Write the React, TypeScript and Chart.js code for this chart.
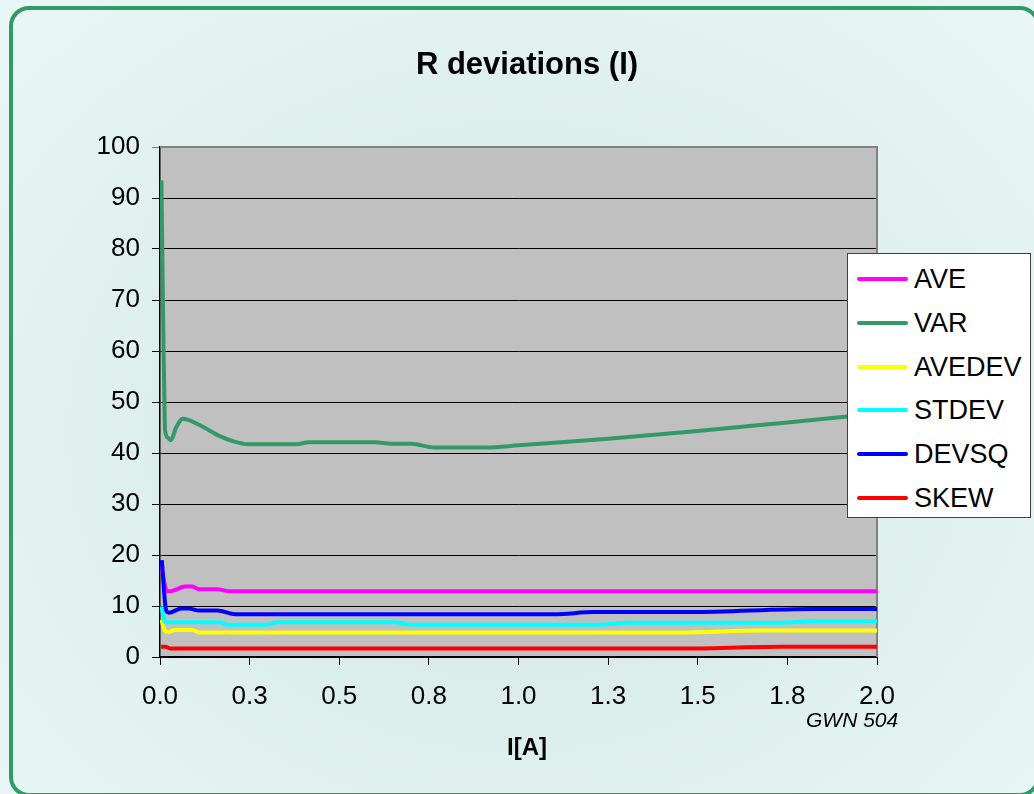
import React, { useEffect, useRef } from 'react';
import { Chart, registerables } from 'chart.js';

Chart.register(...registerables);

// ---- data (current I [A] vs deviation values) ----
const seriesNames = ['AVE', 'VAR', 'AVEDEV', 'STDEV', 'DEVSQ', 'SKEW'];
const seriesColors = ['#FF00FF', '#339966', '#FFFF00', '#00FFFF', '#0000FF', '#FF0000'];

const aveX = [0.004, 0.02, 0.03, 0.07, 0.09, 0.11, 0.16, 0.19, 2.0];
const aveY = [17.5, 12.9, 12.9, 13.8, 13.8, 13.3, 13.3, 12.9, 12.9];

const varX = [0.004, 0.007, 0.01, 0.012, 0.014, 0.022, 0.03, 0.045, 0.063, 0.11, 0.167, 0.2, 0.245, 0.38, 0.415, 0.6, 0.645, 0.7, 0.765, 0.91, 1.0, 1.1, 1.25, 1.5, 1.75, 2.0];
const varY = [93.5, 76, 60, 52, 44.5, 43, 42.5, 45, 46.7, 45.5, 43.3, 42.4, 41.7, 41.7, 42.1, 42.1, 41.8, 41.8, 41.1, 41.1, 41.5, 42.0, 42.8, 44.3, 46.0, 47.7];

const avedevX = [0.004, 0.015, 0.025, 0.04, 0.09, 0.11, 1.45, 1.68, 2.0];
const avedevY = [7.3, 5.0, 4.9, 5.3, 5.3, 4.8, 4.8, 5.2, 5.2];

const stdevX = [0.004, 0.015, 0.167, 0.19, 0.29, 0.33, 0.65, 0.71, 1.22, 1.31, 1.73, 1.82, 2.0];
const stdevY = [9.9, 6.8, 6.8, 6.3, 6.3, 6.8, 6.8, 6.3, 6.3, 6.7, 6.7, 7.0, 7.0];

const devsqX = [0.005, 0.017, 0.025, 0.06, 0.08, 0.11, 0.16, 0.21, 1.1, 1.21, 1.48, 1.82, 2.0];
const devsqY = [19.0, 9.2, 8.7, 9.5, 9.5, 9.1, 9.1, 8.4, 8.4, 8.8, 8.8, 9.4, 9.4];

const skewX = [0.003, 0.015, 0.03, 1.45, 1.73, 2.0];
const skewY = [2.0, 2.0, 1.65, 1.65, 2.0, 2.0];

const xTickLabels = ['0.0', '0.3', '0.5', '0.8', '1.0', '1.3', '1.5', '1.8', '2.0'];
const yTickLabels = ['0', '10', '20', '30', '40', '50', '60', '70', '80', '90', '100'];

const seriesX = [aveX, varX, avedevX, stdevX, devsqX, skewX];
const seriesY = [aveY, varY, avedevY, stdevY, devsqY, skewY];

const FONT = "'Liberation Sans', Arial, Helvetica, sans-serif";

function toPoints(xs: number[], ys: number[]) {
  return xs.map((x, i) => ({ x, y: ys[i] }));
}

export default function App() {
  const canvasRef = useRef<HTMLCanvasElement>(null);

  useEffect(() => {
    if (!canvasRef.current) return;
    const plotArea = {
      id: 'plotArea',
      beforeDraw(chart: any) {
        const { ctx, chartArea: a } = chart;
        ctx.save();
        ctx.fillStyle = '#C0C0C0';
        ctx.fillRect(a.left, a.top, a.right - a.left, a.bottom - a.top);
        ctx.restore();
      },
      beforeDatasetsDraw(chart: any) {
        const { ctx, chartArea: a } = chart;
        ctx.save();
        ctx.strokeStyle = '#808080';
        ctx.lineWidth = 2;
        ctx.beginPath();
        ctx.moveTo(a.left, a.top);
        ctx.lineTo(a.right, a.top);
        ctx.lineTo(a.right, a.bottom);
        ctx.stroke();
        ctx.restore();
      },
    };

    const n = seriesNames.length;
    const chart = new Chart(canvasRef.current, {
      type: 'line',
      data: {
        datasets: seriesNames.map((name, i) => ({
          label: name,
          data: toPoints(seriesX[i], seriesY[i]),
          borderColor: seriesColors[i],
          backgroundColor: seriesColors[i],
          borderWidth: 4,
          pointRadius: 0,
          fill: false,
          cubicInterpolationMode: 'monotone' as const,
          order: n - i,
        })),
      },
      options: {
        responsive: false,
        maintainAspectRatio: false,
        animation: false,
        devicePixelRatio: 1,
        layout: { padding: { top: 147, right: 157, left: 0, bottom: 0 } },
        plugins: {
          legend: { display: false },
          title: { display: false },
          tooltip: { enabled: false },
        },
        scales: {
          x: {
            type: 'linear',
            min: 0,
            max: 2,
            afterFit(scale: any) {
              scale.height = 137;
            },
            ticks: {
              stepSize: 0.25,
              color: '#000',
              padding: 16,
              maxRotation: 0,
              font: { family: FONT, size: 26 },
              callback: (_v: any, idx: number) => xTickLabels[idx],
            },
            grid: {
              drawOnChartArea: false,
              drawTicks: true,
              tickLength: 8,
              color: '#000',
            },
            border: { display: true, color: '#000', width: 1.5 },
          },
          y: {
            type: 'linear',
            min: 0,
            max: 100,
            afterFit(scale: any) {
              scale.width = 160;
            },
            ticks: {
              stepSize: 10,
              color: '#000',
              padding: 12,
              font: { family: FONT, size: 26 },
              callback: (_v: any, idx: number) => yTickLabels[idx],
            },
            grid: {
              color: (ctx: any) => (ctx.tick && ctx.tick.value === 100 ? '#808080' : '#000000'),
              lineWidth: 1,
              tickLength: 8,
            },
            border: { display: true, color: '#000', width: 1.5 },
          },
        },
      },
      plugins: [plotArea],
    });
    return () => chart.destroy();
  }, []);

  const legendTop = 253;
  const rowH = 43.8;

  return (
    <div
      style={{
        position: 'fixed',
        left: 0,
        top: 0,
        width: 1034,
        height: 794,
        overflow: 'hidden',
        fontFamily: FONT,
        background: 'radial-gradient(ellipse at 50% 55%, #D2E6E4 0%, #DCEEEC 45%, #E8F7F5 100%)',
      }}
    >
      <div
        style={{
          position: 'absolute',
          left: 9,
          top: 6,
          width: 1040 - 9,
          height: 797 - 6,
          boxSizing: 'border-box',
          border: '4px solid #339966',
          borderRadius: 20,
        }}
      />
      <canvas ref={canvasRef} width={1034} height={794} style={{ position: 'absolute', left: 0, top: 0 }} />
      <div
        style={{
          position: 'absolute',
          left: 0,
          width: 1054,
          top: 46,
          lineHeight: '36px',
          textAlign: 'center',
          fontWeight: 'bold',
          fontSize: 31,
          color: '#000',
        }}
      >
        R deviations (I)
      </div>
      <div
        style={{
          position: 'absolute',
          left: 0,
          width: 1054,
          top: 732,
          lineHeight: '30px',
          textAlign: 'center',
          fontWeight: 'bold',
          fontSize: 24,
          color: '#000',
        }}
      >
        I[A]
      </div>
      <div
        style={{
          position: 'absolute',
          left: 806,
          top: 708,
          lineHeight: '24px',
          fontStyle: 'italic',
          fontSize: 21,
          color: '#000',
          whiteSpace: 'nowrap',
        }}
      >
        GWN 504
      </div>
      <div
        style={{
          position: 'absolute',
          left: 847,
          top: legendTop,
          width: 184,
          height: 265,
          boxSizing: 'border-box',
          background: '#FFFFFF',
          border: '1.5px solid #404040',
        }}
      >
        {seriesNames.map((name, i) => (
          <div
            key={name}
            style={{
              position: 'absolute',
              left: 0,
              top: 25 + i * rowH - 16,
              height: 32,
              width: 184,
            }}
          >
            <div
              style={{
                position: 'absolute',
                left: 9,
                top: 14,
                width: 51,
                height: 4,
                borderRadius: 2,
                background: seriesColors[i],
              }}
            />
            <div
              style={{
                position: 'absolute',
                left: 66,
                top: 0,
                lineHeight: '32px',
                fontSize: 27,
                color: '#000',
                whiteSpace: 'nowrap',
              }}
            >
              {name}
            </div>
          </div>
        ))}
      </div>
    </div>
  );
}
